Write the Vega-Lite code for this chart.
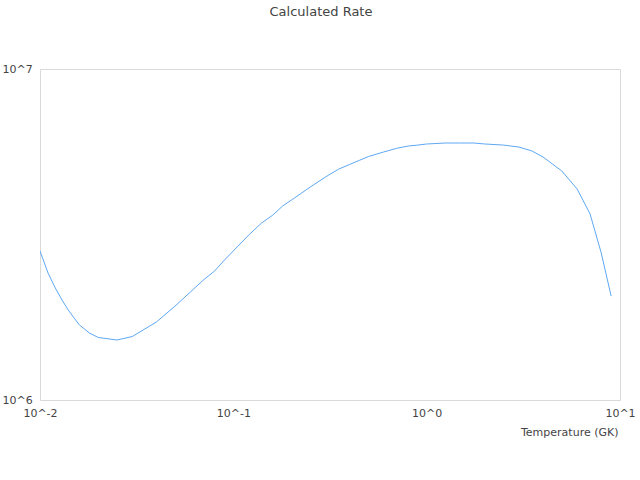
{
  "$schema": "https://vega.github.io/schema/vega-lite/v6.json",
  "autosize": "none",
  "width": 580,
  "height": 331,
  "padding": {"left": 40, "top": 69, "right": 20, "bottom": 80},
  "background": "white",
  "title": {"text": "Calculated Rate", "font": "DejaVu Sans", "fontSize": 13, "fontWeight": "normal", "color": "#444", "anchor": "middle", "dx": -9, "offset": 31, "baseline": "bottom"},
  "config": {
    "view": {"stroke": "#d9d9d9", "strokeWidth": 1},
    "axis": {"labelFont": "DejaVu Sans", "labelFontSize": 11, "labelColor": "#444", "titleFont": "DejaVu Sans", "titleFontSize": 11, "titleColor": "#444", "titleFontWeight": "normal", "grid": false, "ticks": false, "domain": false, "labelFlush": false, "labelOverlap": false}
  },
  "data": {"values": [
    {"t": 0.01, "rate": 2820000},
    {"t": 0.011, "rate": 2420000},
    {"t": 0.012, "rate": 2180000},
    {"t": 0.013, "rate": 2005000},
    {"t": 0.014, "rate": 1870000},
    {"t": 0.015, "rate": 1770000},
    {"t": 0.016, "rate": 1685000},
    {"t": 0.018, "rate": 1594000},
    {"t": 0.02, "rate": 1545000},
    {"t": 0.025, "rate": 1518000},
    {"t": 0.03, "rate": 1555000},
    {"t": 0.04, "rate": 1720000},
    {"t": 0.05, "rate": 1923000},
    {"t": 0.06, "rate": 2120000},
    {"t": 0.07, "rate": 2304000},
    {"t": 0.08, "rate": 2453000},
    {"t": 0.09, "rate": 2648000},
    {"t": 0.1, "rate": 2820000},
    {"t": 0.12, "rate": 3150000},
    {"t": 0.14, "rate": 3425000},
    {"t": 0.16, "rate": 3620000},
    {"t": 0.18, "rate": 3857000},
    {"t": 0.2, "rate": 4020000},
    {"t": 0.25, "rate": 4400000},
    {"t": 0.3, "rate": 4720000},
    {"t": 0.35, "rate": 4980000},
    {"t": 0.4, "rate": 5150000},
    {"t": 0.45, "rate": 5300000},
    {"t": 0.5, "rate": 5440000},
    {"t": 0.6, "rate": 5615000},
    {"t": 0.7, "rate": 5760000},
    {"t": 0.8, "rate": 5850000},
    {"t": 0.9, "rate": 5890000},
    {"t": 1.0, "rate": 5935000},
    {"t": 1.25, "rate": 5976000},
    {"t": 1.5, "rate": 5976000},
    {"t": 1.75, "rate": 5976000},
    {"t": 2.0, "rate": 5935000},
    {"t": 2.5, "rate": 5890000},
    {"t": 3.0, "rate": 5810000},
    {"t": 3.5, "rate": 5655000},
    {"t": 4.0, "rate": 5420000},
    {"t": 5.0, "rate": 4920000},
    {"t": 6.0, "rate": 4340000},
    {"t": 7.0, "rate": 3650000},
    {"t": 8.0, "rate": 2780000},
    {"t": 9.0, "rate": 2060000}
  ]},
  "mark": {"type": "line", "color": "#5ea8f2", "strokeWidth": 1, "clip": true},
  "encoding": {
    "x": {
      "field": "t", "type": "quantitative",
      "scale": {"type": "log", "domain": [0.01, 10], "nice": false},
      "axis": {"values": [0.01, 0.1, 1, 10], "labelExpr": "datum.value < 0.05 ? '10^-2' : datum.value < 0.5 ? '10^-1' : datum.value < 5 ? '10^0' : '10^1'", "labelPadding": 7, "labelBaseline": "top", "title": "Temperature (GK)", "titleAnchor": "end", "titleAlign": "right", "titleBaseline": "middle", "titleY": 32, "titleX": 578}
    },
    "y": {
      "field": "rate", "type": "quantitative",
      "scale": {"type": "log", "domain": [1000000, 10000000], "nice": false},
      "axis": {"values": [1000000, 10000000], "labelExpr": "datum.value > 5000000 ? '10^7' : '10^6'", "labelAlign": "left", "labelPadding": 38, "labelBaseline": "middle", "title": null}
    }
  }
}
